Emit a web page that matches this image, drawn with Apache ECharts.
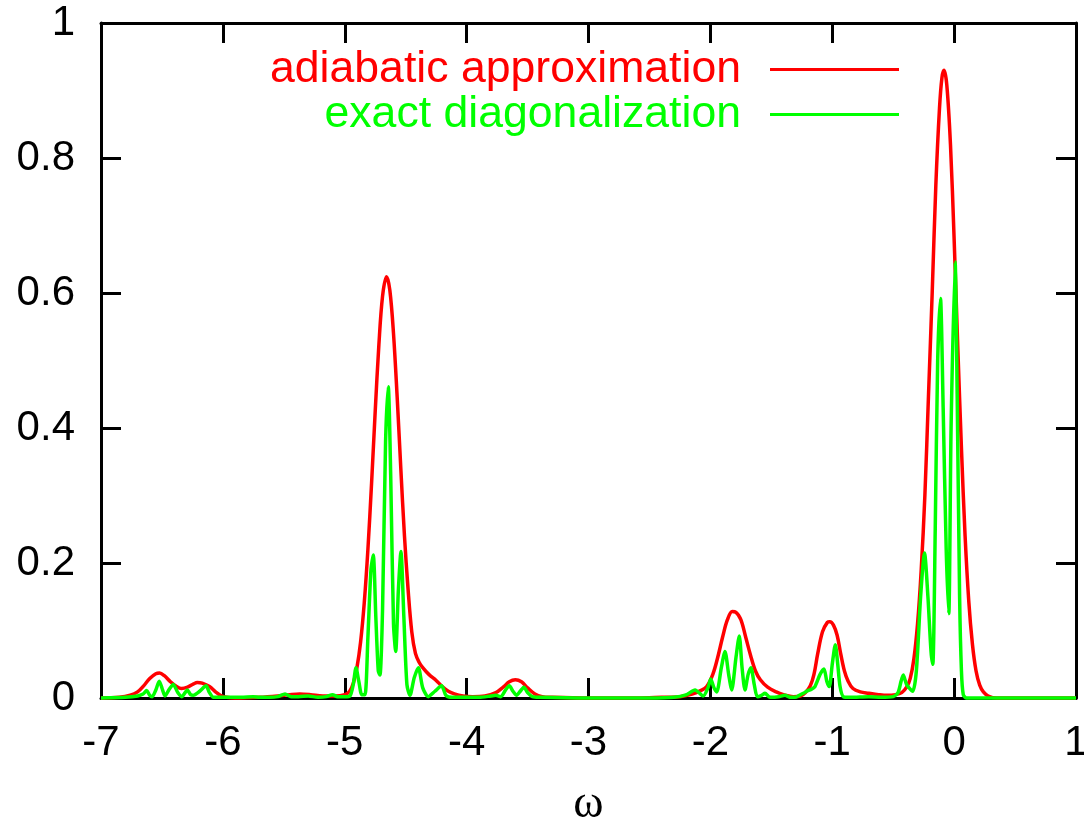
<!DOCTYPE html>
<html>
<head>
<meta charset="utf-8">
<script src="https://cdn.jsdelivr.net/npm/echarts@6/dist/echarts.min.js"></script>
<style>
html,body{margin:0;padding:0;background:#fff;}
#chart{width:1084px;height:829px;}
</style>
</head>
<body>
<div id="chart"></div>
<script>
// Tick labels
const xTickLabels = ['-7','-6','-5','-4','-3','-2','-1','0','1'];
const yTickLabels = ['0','0.2','0.4','0.6','0.8','1'];
const seriesNames = ['adiabatic approximation', 'exact diagonalization'];

// adiabatic approximation: [omega, value]
const adiabatic = [
[-7.0,0],[-6.85,0.001],[-6.76,0.004],[-6.70,0.009],[-6.65,0.018],[-6.60,0.029],[-6.55,0.036],[-6.52,0.037],
[-6.48,0.033],[-6.43,0.024],[-6.38,0.017],[-6.34,0.014],[-6.29,0.016],[-6.24,0.021],[-6.21,0.023],[-6.17,0.022],
[-6.11,0.017],[-6.06,0.009],[-6.02,0.004],[-5.97,0.001],[-5.9,0],[-5.7,0.001],[-5.55,0.003],[-5.45,0.005],
[-5.37,0.006],[-5.28,0.005],[-5.18,0.003],[-5.08,0.003],[-5.0,0.005],[-4.96,0.01],[-4.93,0.022],[-4.90,0.045],
[-4.87,0.083],[-4.84,0.141],[-4.81,0.22],[-4.78,0.318],[-4.75,0.425],[-4.72,0.523],[-4.69,0.595],[-4.657,0.624],
[-4.63,0.604],[-4.60,0.54],[-4.57,0.446],[-4.54,0.34],[-4.51,0.24],[-4.48,0.16],[-4.45,0.098],[-4.42,0.066],
[-4.39,0.053],[-4.36,0.045],[-4.31,0.035],[-4.25,0.026],[-4.20,0.017],[-4.15,0.01],[-4.10,0.006],[-4.03,0.003],
[-3.95,0.002],[-3.85,0.003],[-3.76,0.008],[-3.70,0.016],[-3.65,0.024],[-3.60,0.027],[-3.55,0.024],[-3.50,0.015],
[-3.44,0.006],[-3.38,0.002],[-3.3,0.001],[-3.0,0],[-2.6,0],[-2.4,0.001],[-2.25,0.002],[-2.15,0.006],
[-2.08,0.011],[-2.03,0.017],[-1.98,0.035],[-1.94,0.06],[-1.90,0.09],[-1.86,0.116],[-1.82,0.128],[-1.79,0.127],
[-1.75,0.116],[-1.71,0.09],[-1.67,0.063],[-1.63,0.04],[-1.59,0.027],[-1.53,0.016],[-1.46,0.009],[-1.40,0.005],
[-1.32,0.002],[-1.26,0.003],[-1.22,0.008],[-1.18,0.018],[-1.15,0.035],[-1.12,0.065],[-1.08,0.098],[-1.04,0.112],
[-1.02,0.113],[-0.99,0.108],[-0.96,0.093],[-0.93,0.065],[-0.90,0.04],[-0.87,0.025],[-0.83,0.014],[-0.77,0.009],
[-0.70,0.007],[-0.62,0.005],[-0.55,0.004],[-0.48,0.005],[-0.43,0.008],[-0.39,0.016],[-0.36,0.029],[-0.33,0.058],
[-0.30,0.11],[-0.27,0.19],[-0.24,0.30],[-0.21,0.45],[-0.18,0.6],[-0.15,0.76],[-0.12,0.874],[-0.10,0.919],
[-0.083,0.93],[-0.06,0.908],[-0.03,0.82],[0.0,0.68],[0.03,0.52],[0.06,0.37],[0.09,0.24],[0.12,0.144],
[0.15,0.08],[0.18,0.04],[0.21,0.019],[0.24,0.009],[0.28,0.003],[0.35,0],[1.0,0]
];

// exact diagonalization: [omega, value]
const exact = [
[-7.0,0],[-6.80,0.001],[-6.70,0.003],[-6.655,0.006],[-6.625,0.011],[-6.60,0.004],[-6.58,0.002],[-6.55,0.012],
[-6.522,0.025],[-6.495,0.012],[-6.475,0.003],[-6.44,0.013],[-6.407,0.020],[-6.37,0.008],[-6.338,0.002],[-6.31,0.008],
[-6.292,0.012],[-6.265,0.005],[-6.243,0.004],[-6.19,0.01],[-6.138,0.018],[-6.11,0.008],[-6.078,0.001],[-6.0,0.001],
[-5.85,0.001],[-5.75,0.002],[-5.70,0.001],[-5.62,0.001],[-5.55,0.002],[-5.49,0.006],[-5.44,0.002],[-5.38,0.002],
[-5.30,0.003],[-5.22,0.001],[-5.15,0.002],[-5.10,0.005],[-5.06,0.002],[-5.00,0.002],[-4.957,0.003],[-4.93,0.02],
[-4.908,0.045],[-4.885,0.025],[-4.86,0.005],[-4.834,0.005],[-4.81,0.09],[-4.785,0.19],[-4.766,0.212],[-4.745,0.12],
[-4.725,0.04],[-4.711,0.034],[-4.69,0.13],[-4.665,0.38],[-4.643,0.461],[-4.623,0.33],[-4.60,0.11],[-4.582,0.069],
[-4.56,0.16],[-4.539,0.217],[-4.515,0.12],[-4.49,0.02],[-4.465,0.004],[-4.43,0.03],[-4.396,0.045],[-4.36,0.015],
[-4.315,0.002],[-4.26,0.01],[-4.205,0.018],[-4.17,0.004],[-4.12,0.001],[-4.0,0.001],[-3.9,0.001],[-3.80,0.003],
[-3.76,0.004],[-3.72,0.002],[-3.68,0.012],[-3.65,0.018],[-3.62,0.01],[-3.59,0.004],[-3.56,0.01],[-3.53,0.016],
[-3.50,0.008],[-3.46,0.002],[-3.4,0.001],[-3.0,0],[-2.5,0],[-2.3,0.001],[-2.194,0.005],[-2.126,0.012],
[-2.058,0.003],[-2.02,0.015],[-1.997,0.028],[-1.97,0.015],[-1.948,0.009],[-1.91,0.045],[-1.88,0.069],[-1.85,0.035],
[-1.825,0.012],[-1.79,0.06],[-1.763,0.092],[-1.74,0.045],[-1.716,0.012],[-1.69,0.035],[-1.667,0.045],[-1.64,0.02],
[-1.615,0.002],[-1.58,0.004],[-1.552,0.007],[-1.52,0.002],[-1.497,0.001],[-1.44,0.002],[-1.388,0.004],[-1.34,0.001],
[-1.306,0.001],[-1.27,0.004],[-1.237,0.007],[-1.20,0.011],[-1.17,0.013],[-1.142,0.017],[-1.10,0.035],[-1.068,0.043],
[-1.045,0.025],[-1.024,0.017],[-1.0,0.05],[-0.975,0.079],[-0.955,0.05],[-0.936,0.017],[-0.909,0.002],[-0.85,0.001],
[-0.7,0.002],[-0.6,0.001],[-0.5,0.002],[-0.46,0.008],[-0.435,0.025],[-0.417,0.034],[-0.39,0.02],[-0.34,0.01],
[-0.31,0.04],[-0.275,0.15],[-0.243,0.215],[-0.215,0.15],[-0.19,0.07],[-0.175,0.05],[-0.155,0.25],[-0.135,0.5],
[-0.112,0.592],[-0.09,0.43],[-0.065,0.22],[-0.044,0.125],[-0.025,0.4],[0.008,0.646],[0.025,0.45],[0.045,0.15],
[0.06,0.04],[0.075,0.005],[0.1,0],[1.0,0]
];

const FONT = "'Liberation Sans', Arial, Helvetica, sans-serif";
const axisLineStyle = { color: '#000', width: 3 };

function xAxisCfg(pos, showLabel) {
  return {
    type: 'value', position: pos, min: -7, max: 1, interval: 1,
    axisLine: { show: true, onZero: false, lineStyle: axisLineStyle },
    axisTick: { show: true, inside: true, length: 20, lineStyle: { color: '#000', width: 3 } },
    axisLabel: {
      show: showLabel, fontSize: 42, fontFamily: FONT, color: '#000', margin: 24,
      formatter: v => xTickLabels[Math.round(v + 7)]
    },
    splitLine: { show: false }
  };
}
function yAxisCfg(pos, showLabel) {
  return {
    type: 'value', position: pos, min: 0, max: 1, interval: 0.2,
    axisLine: { show: true, onZero: false, lineStyle: axisLineStyle },
    axisTick: { show: true, inside: true, length: 20, lineStyle: { color: '#000', width: 3 } },
    axisLabel: {
      show: showLabel, fontSize: 42, fontFamily: FONT, color: '#000', margin: 26,
      formatter: v => yTickLabels[Math.round(v / 0.2)]
    },
    splitLine: { show: false }
  };
}

const xMain = xAxisCfg('bottom', true);
xMain.name = 'ω';
xMain.nameLocation = 'middle';
xMain.nameGap = 84;
xMain.nameTextStyle = { fontSize: 46, fontFamily: "'Liberation Serif', 'DejaVu Serif', serif", color: '#000' };

const chart = echarts.init(document.getElementById('chart'), null, { renderer: 'canvas' });
chart.setOption({
  animation: false,
  backgroundColor: '#fff',
  grid: { left: 101, right: 8, top: 23, bottom: 131, containLabel: false, outerBoundsMode: 'none' },
  xAxis: [xMain, xAxisCfg('top', false)],
  yAxis: [yAxisCfg('left', true), yAxisCfg('right', false)],
  legend: {
    right: 185, top: 47, orient: 'vertical', align: 'right', padding: 0,
    icon: 'rect', itemWidth: 129, itemHeight: 3, itemGap: 0,
    textStyle: { fontSize: 44.6, fontFamily: FONT, lineHeight: 44, padding: [0, 24, 0, 0] },
    data: [
      { name: seriesNames[0], textStyle: { color: '#ff0000' } },
      { name: seriesNames[1], textStyle: { color: '#00ff00' } }
    ]
  },
  series: [
    {
      name: seriesNames[0], type: 'line', data: adiabatic, xAxisIndex: 0, yAxisIndex: 0,
      showSymbol: false, smooth: 0.35, clip: false,
      lineStyle: { color: '#ff0000', width: 3.5 }, itemStyle: { color: '#ff0000' }
    },
    {
      name: seriesNames[1], type: 'line', data: exact, xAxisIndex: 0, yAxisIndex: 0,
      showSymbol: false, smooth: 0.25, clip: false,
      lineStyle: { color: '#00ff00', width: 3.5 }, itemStyle: { color: '#00ff00' }
    }
  ]
});
</script>
</body>
</html>
